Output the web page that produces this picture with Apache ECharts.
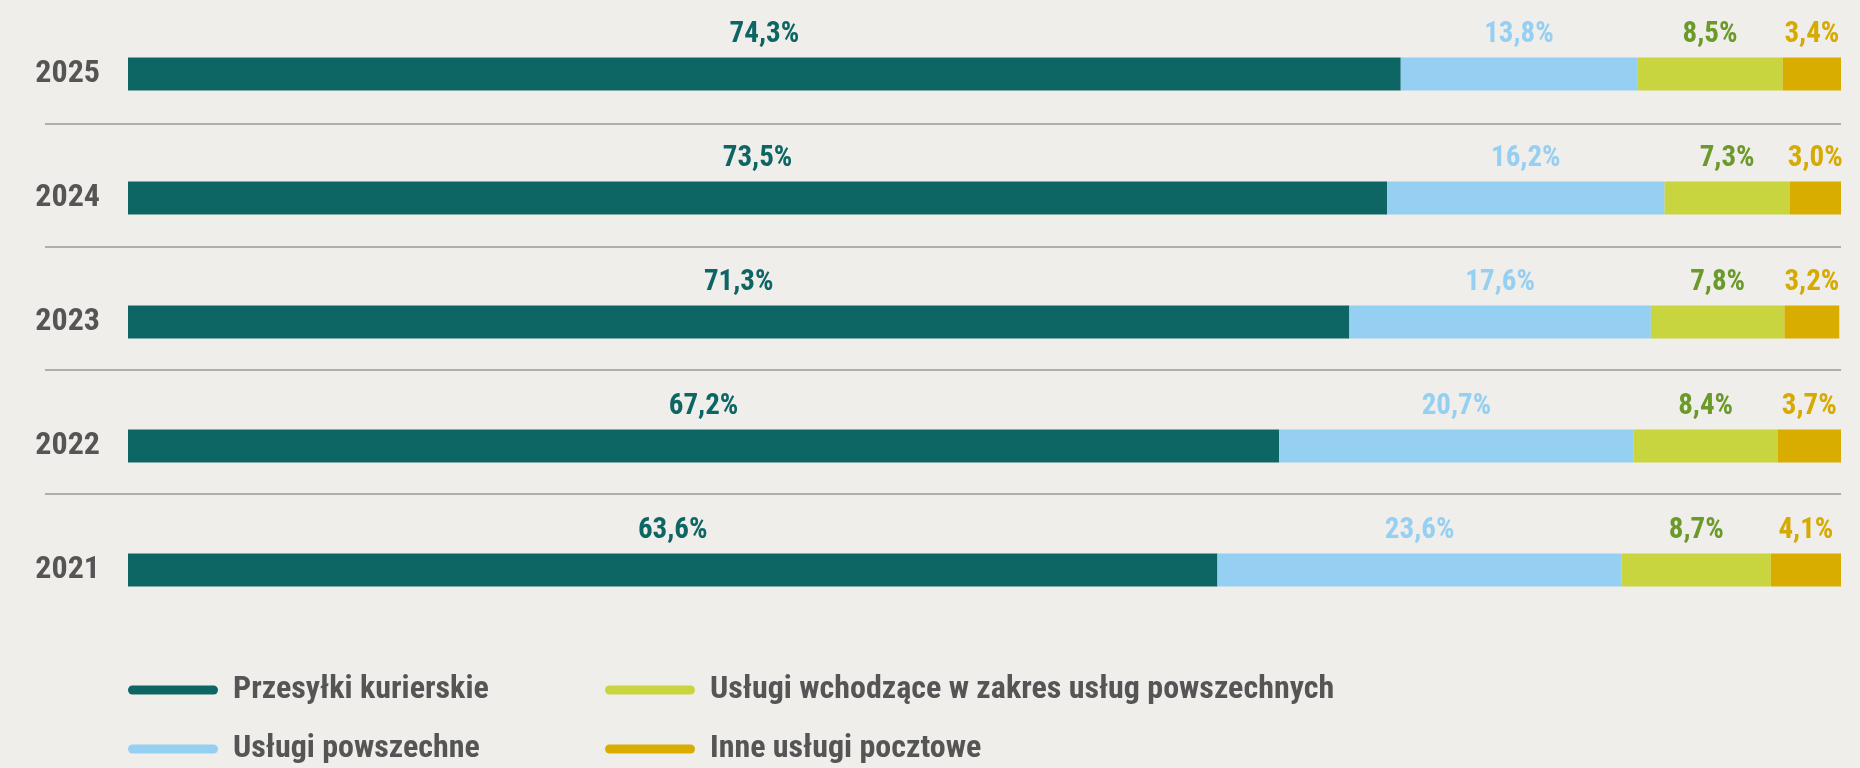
<!DOCTYPE html>
<html>
<head>
<meta charset="utf-8">
<title>Struktura przychodów</title>
<script src="https://cdn.jsdelivr.net/npm/echarts@6/dist/echarts.min.js"></script>
<style>
  html, body {
    margin: 0;
    padding: 0;
    background: #f0eeeb;
  }
  #chart {
    width: 1860px;
    height: 768px;
  }
</style>
</head>
<body>
<div id="chart"></div>
<script>
// lata (od góry)
const years = ['2025', '2024', '2023', '2022', '2021'];

// udział w % dla każdego roku
const przesylkiKurierskie = [74.3, 73.5, 71.3, 67.2, 63.6];
const uslugiPowszechne = [13.8, 16.2, 17.6, 20.7, 23.6];
const uslugiWchodzace = [8.5, 7.3, 7.8, 8.4, 8.7];
const inneUslugi = [3.4, 3.0, 3.2, 3.7, 4.1];

const seriesNames = [
  'Przesyłki kurierskie',
  'Usługi powszechne',
  'Usługi wchodzące w zakres usług powszechnych',
  'Inne usługi pocztowe'
];

const fontFamily = "'Roboto Condensed', 'Liberation Sans Narrow', Roboto, sans-serif";
const textGrey = '#555555';

// kolor słupka i kolor etykiety
const barColors = ['#0d6564', '#95cff2', '#c8d53f', '#d8ad00'];
const labelColors = ['#0d6564', '#95cff2', '#6b9a2b', '#d6aa00'];

const chart = echarts.init(document.getElementById('chart'));

function makeSeries(name, data, idx) {
  return {
    name: name,
    type: 'bar',
    stack: 'total',
    barWidth: 33,
    data: data,
    itemStyle: { color: barColors[idx] },
    label: {
      show: true,
      position: 'top',
      distance: 8,
      color: labelColors[idx],
      fontFamily: fontFamily,
      fontWeight: 'bold',
      fontSize: 29,
      formatter: (p) => p.value.toFixed(1).replace('.', ',') + '%'
    }
  };
}

// legenda: dwie kolumny po dwie pozycje
const legendIcon = 'path://M5,0 H95 A5,5 0 0 1 95,10 H5 A5,5 0 0 1 5,0 Z';
const legendBase = {
  orient: 'vertical',
  top: 674,
  padding: 0,
  icon: legendIcon,
  itemWidth: 98,
  itemHeight: 9,
  itemGap: 27,
  selectedMode: false,
  textStyle: {
    color: textGrey,
    fontFamily: fontFamily,
    fontWeight: 'bold',
    fontSize: 32,
    lineHeight: 32,
    padding: [0, 0, 0, 6]
  }
};

const option = {
  backgroundColor: '#f0eeeb',
  animation: false,
  legend: [
    Object.assign({}, legendBase, { left: 128, data: [seriesNames[0], seriesNames[1]] }),
    Object.assign({}, legendBase, { left: 605, data: [seriesNames[2], seriesNames[3]] })
  ],
  grid: [
    // słupki
    { left: 128, right: 19, top: 12, height: 620 },
    // linie oddzielające lata
    { left: 45, right: 19, top: -3, height: 620 }
  ],
  xAxis: [
    { gridIndex: 0, type: 'value', min: 0, max: 100, show: false },
    { gridIndex: 1, type: 'value', min: 0, max: 1, show: false }
  ],
  yAxis: [
    {
      gridIndex: 0,
      type: 'category',
      inverse: true,
      data: years,
      axisLine: { show: false },
      axisTick: { show: false },
      splitLine: { show: false },
      axisLabel: {
        margin: 28,
        color: textGrey,
        fontFamily: fontFamily,
        fontWeight: 'bold',
        fontSize: 32
      }
    },
    {
      gridIndex: 1,
      type: 'category',
      inverse: true,
      data: years,
      axisLine: { show: false },
      axisTick: { show: false },
      axisLabel: { show: false },
      splitLine: {
        show: true,
        showMinLine: false,
        showMaxLine: false,
        lineStyle: { color: '#9a9898', width: 1.5 }
      }
    }
  ],
  series: [
    makeSeries(seriesNames[0], przesylkiKurierskie, 0),
    makeSeries(seriesNames[1], uslugiPowszechne, 1),
    makeSeries(seriesNames[2], uslugiWchodzace, 2),
    makeSeries(seriesNames[3], inneUslugi, 3)
  ]
};

chart.setOption(option);
</script>
</body>
</html>
